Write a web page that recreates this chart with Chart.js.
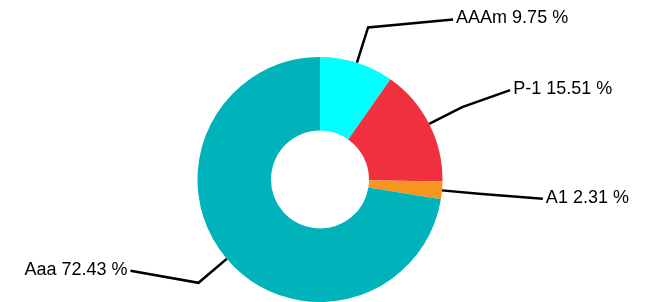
<!DOCTYPE html>
<html>
<head>
<meta charset="utf-8">
<script src="https://cdn.jsdelivr.net/npm/chart.js@4/dist/chart.umd.min.js"></script>
<style>
  html, body { margin: 0; padding: 0; background: #ffffff; }
  #wrap { width: 649px; height: 302px; position: relative; }
</style>
</head>
<body>
<div id="wrap"><canvas id="c" width="649" height="302"></canvas></div>
<script>
const categories = ["AAAm", "P-1", "A1", "Aaa"];
const shares = [9.75, 15.51, 2.31, 72.43];
const sliceColors = ["#00FFFF", "#EF313F", "#F7961F", "#00B3BA"];
// label anchor offsets from the leader-line elbow (layout only)
const labelOffsets = [[85, -8], [48, -17], [64, 5], [-68, -12]];

const leaderPlugin = {
  id: 'leaders',
  afterDatasetsDraw(chart) {
    const ctx = chart.ctx;
    const meta = chart.getDatasetMeta(0);
    ctx.save();
    ctx.strokeStyle = '#000000';
    ctx.lineWidth = 2.5;
    ctx.lineJoin = 'miter';
    ctx.fillStyle = '#000000';
    ctx.font = '18px "Liberation Sans", Arial, sans-serif';
    ctx.textBaseline = 'middle';
    meta.data.forEach((arc, i) => {
      const p = arc.getProps(['x', 'y', 'startAngle', 'endAngle', 'outerRadius'], true);
      const mid = (p.startAngle + p.endAngle) / 2;
      const r0 = p.outerRadius;
      const r1 = p.outerRadius + 37;
      const sx = p.x + Math.cos(mid) * r0, sy = p.y + Math.sin(mid) * r0;
      const ex = p.x + Math.cos(mid) * r1, ey = p.y + Math.sin(mid) * r1;
      const lx = ex + labelOffsets[i][0], ly = ey + labelOffsets[i][1];
      ctx.beginPath();
      ctx.moveTo(sx, sy);
      ctx.lineTo(ex, ey);
      ctx.lineTo(lx, ly);
      ctx.stroke();
      const txt = categories[i] + ' ' + shares[i].toFixed(2) + ' %';
      const right = labelOffsets[i][0] >= 0;
      ctx.textAlign = right ? 'left' : 'right';
      ctx.fillText(txt, lx + (right ? 3 : -3), ly - 1);
    });
    ctx.restore();
  }
};

new Chart(document.getElementById('c'), {
  type: 'doughnut',
  data: {
    labels: categories,
    datasets: [{
      data: shares,
      backgroundColor: sliceColors,
      borderWidth: 0,
      hoverOffset: 0
    }]
  },
  options: {
    responsive: false,
    animation: false,
    cutout: '40%',
    layout: { padding: { top: 57, bottom: 0, left: 0, right: 9 } },
    plugins: { legend: { display: false }, tooltip: { enabled: false } }
  },
  plugins: [leaderPlugin]
});
</script>
</body>
</html>
